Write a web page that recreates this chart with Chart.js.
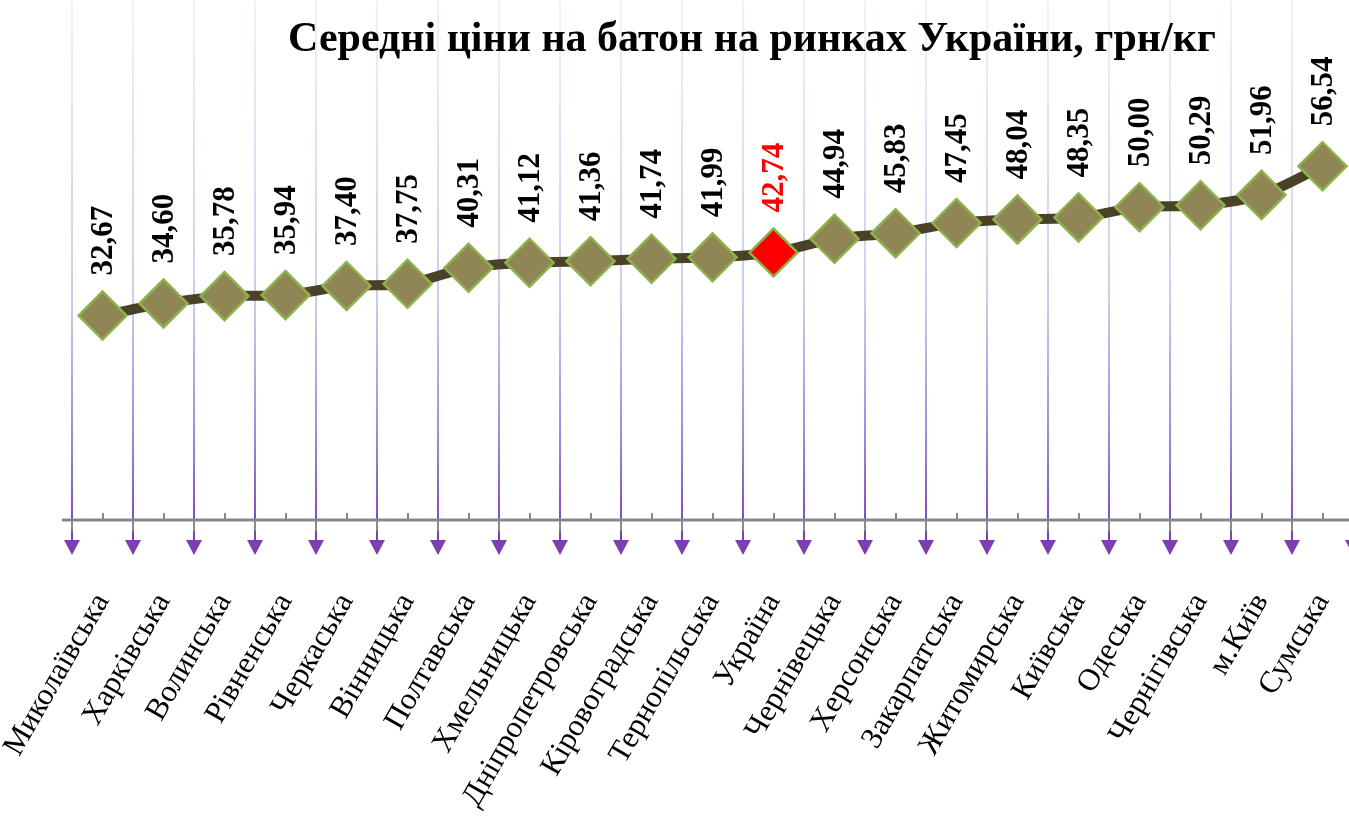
<!DOCTYPE html>
<html>
<head>
<meta charset="utf-8">
<script src="https://cdn.jsdelivr.net/npm/chart.js@4.4.0/dist/chart.umd.min.js"></script>
<style>
  html, body { margin: 0; padding: 0; background: #fff; overflow: hidden; }
  #wrap { position: relative; width: 1356px; height: 817px; }
</style>
</head>
<body>
<div id="wrap"><canvas id="c"></canvas></div>
<script>
const categories = ['Миколаївська','Харківська','Волинська','Рівненська','Черкаська','Вінницька','Полтавська','Хмельницька','Дніпропетровська','Кіровоградська','Тернопільська','Україна','Чернівецька','Херсонська','Закарпатська','Житомирська','Київська','Одеська','Чернігівська','м.Київ','Сумська'];
const prices = [32.67,34.60,35.78,35.94,37.40,37.75,40.31,41.12,41.36,41.74,41.99,42.74,44.94,45.83,47.45,48.04,48.35,50.00,50.29,51.96,56.54];
const highlightCategory = 'Україна';
const chartTitle = 'Середні ціни на батон на ринках України, грн/кг';

const SERIF = '"Liberation Serif", "Times New Roman", serif';
const isHi = i => categories[i] === highlightCategory;

const framePlugin = {
  id: 'frame',
  beforeDraw(chart) {
    const {ctx, chartArea, scales: {x}} = chart;
    const n = categories.length;
    const half = (x.getPixelForValue(1) - x.getPixelForValue(0)) / 2;
    const axisY = chartArea.bottom;
    ctx.save();
    for (let i = 0; i <= n; i++) {
      const px = Math.round(x.getPixelForValue(i) - half);
      const g = ctx.createLinearGradient(0, 0, 0, axisY + 20);
      g.addColorStop(0, '#f1f3fb');
      g.addColorStop(0.55, '#c9cef0');
      g.addColorStop(0.8, '#a58ad8');
      g.addColorStop(1, '#7a40b2');
      ctx.strokeStyle = g;
      ctx.lineWidth = 2;
      ctx.beginPath();
      ctx.moveTo(px, 0);
      ctx.lineTo(px, axisY + 22);
      ctx.stroke();
      ctx.strokeStyle = '#8a8a8a';
      ctx.lineWidth = 2;
      ctx.beginPath();
      ctx.moveTo(px, axisY);
      ctx.lineTo(px, axisY + 11);
      ctx.stroke();
      ctx.fillStyle = '#7b3fb0';
      ctx.beginPath();
      ctx.moveTo(px - 8, axisY + 20);
      ctx.lineTo(px + 8, axisY + 20);
      ctx.lineTo(px, axisY + 35);
      ctx.closePath();
      ctx.fill();
    }
    ctx.strokeStyle = '#878787';
    ctx.lineWidth = 3;
    ctx.beginPath();
    ctx.moveTo(chartArea.left - 10, axisY);
    ctx.lineTo(chartArea.right + 10, axisY);
    ctx.stroke();
    ctx.lineWidth = 2;
    for (let i = 0; i < n; i++) {
      const px = Math.round(x.getPixelForValue(i));
      ctx.beginPath();
      ctx.moveTo(px, axisY);
      ctx.lineTo(px, axisY - 7);
      ctx.stroke();
    }
    ctx.fillStyle = '#000';
    ctx.font = 'bold 42px ' + SERIF;
    ctx.textAlign = 'center';
    ctx.textBaseline = 'alphabetic';
    ctx.fillText(chartTitle, 752, 51);
    ctx.restore();
  },
  afterDatasetsDraw(chart) {
    const {ctx} = chart;
    const meta = chart.getDatasetMeta(0);
    ctx.save();
    ctx.font = 'bold 31px ' + SERIF;
    ctx.textAlign = 'left';
    ctx.textBaseline = 'middle';
    meta.data.forEach((pt, i) => {
      ctx.save();
      ctx.translate(pt.x + 1, pt.y - 40);
      ctx.rotate(-Math.PI / 2);
      ctx.fillStyle = isHi(i) ? '#ff0000' : '#000000';
      ctx.fillText(prices[i].toFixed(2).replace('.', ','), 0, 0);
      ctx.restore();
    });
    ctx.restore();
  }
};

new Chart(document.getElementById('c'), {
  type: 'line',
  data: {
    labels: categories,
    datasets: [{
      data: prices,
      borderColor: '#4a4129',
      borderWidth: 10,
      tension: 0.3,
      pointStyle: 'rectRot',
      pointRadius: 24,
      pointHoverRadius: 24,
      pointBackgroundColor: categories.map((c, i) => isHi(i) ? '#ff0000' : '#8f8555'),
      pointBorderColor: '#8db24c',
      pointBorderWidth: 2.5
    }]
  },
  options: {
    responsive: true,
    maintainAspectRatio: false,
    animation: false,
    events: [],
    layout: { autoPadding: false, padding: { left: 72, right: 3, top: 82, bottom: 0 } },
    plugins: {
      legend: { display: false },
      tooltip: { enabled: false },
      title: { display: false }
    },
    scales: {
      x: {
        offset: true,
        grid: { display: false, drawTicks: false },
        border: { display: false },
        ticks: {
          color: '#000',
          font: { family: SERIF, size: 31 },
          minRotation: 60,
          maxRotation: 60,
          autoSkip: false,
          padding: 67
        },
        afterFit(scale) {
          scale.height = 297;
          scale.paddingLeft = 0;
          scale.paddingRight = 0;
        }
      },
      y: {
        display: false,
        min: 0,
        max: 70
      }
    }
  },
  plugins: [framePlugin]
});
</script>
</body>
</html>
